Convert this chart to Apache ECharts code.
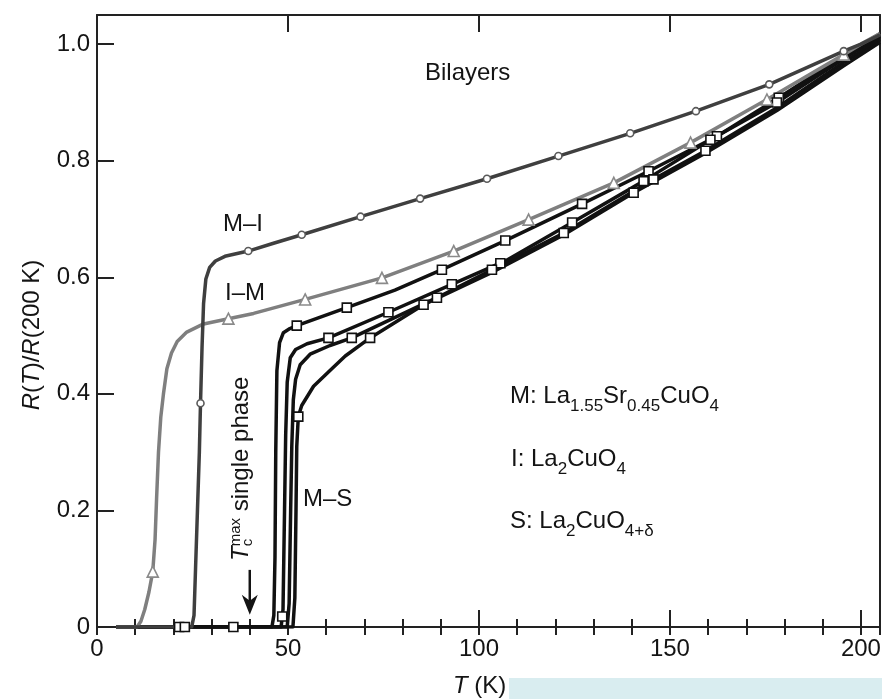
<!DOCTYPE html>
<html>
<head>
<meta charset="utf-8">
<script src="https://cdn.jsdelivr.net/npm/echarts@6/dist/echarts.min.js"></script>
<style>
  html, body { margin: 0; padding: 0; background: #fff; }
  #chart { width: 882px; height: 699px; }
</style>
</head>
<body>
<div id="chart"></div>
<script>
// ---- Data: [T (K), R(T)/R(200 K)] ----
const miCurve = [[5,0],[24.8,0],[25.4,0.02],[25.8,0.1],[26.3,0.2],[26.8,0.3],[27.1,0.384],[27.5,0.48],[27.9,0.555],[28.5,0.597],[29.5,0.617],[31,0.628],[33.5,0.636],[39.6,0.645],[46,0.658],[53.6,0.673],[69,0.704],[84.6,0.735],[102.1,0.769],[120.8,0.808],[139.6,0.847],[156.8,0.885],[176,0.931],[195.5,0.988],[200,1.0],[205,1.016]];
const miMarks = [[27.1,0.384],[39.6,0.645],[53.6,0.673],[69,0.704],[84.6,0.735],[102.1,0.769],[120.8,0.808],[139.6,0.847],[156.8,0.885],[176,0.931],[195.5,0.988]];

const imCurve = [[5,0],[10.5,0],[11.5,0.01],[12.5,0.03],[13.6,0.06],[14.6,0.095],[15.2,0.15],[15.6,0.22],[16.1,0.3],[16.7,0.36],[17.4,0.4],[18.3,0.443],[19.5,0.47],[21,0.49],[23.5,0.506],[27.9,0.52],[34.4,0.529],[41,0.538],[54.5,0.562],[74.6,0.599],[93.4,0.645],[113,0.699],[135.3,0.762],[155.4,0.831],[175.4,0.905],[195.5,0.982],[200,1.0],[205,1.018]];
const imMarks = [[14.6,0.095],[34.4,0.529],[54.5,0.562],[74.6,0.599],[93.4,0.645],[113,0.699],[135.3,0.762],[155.4,0.831],[175.4,0.905],[195.5,0.982]];

const msCurveA = [[5,0],[45.8,0],[46.3,0.02],[46.6,0.12],[46.8,0.3],[47.1,0.44],[47.8,0.488],[48.8,0.505],[50.5,0.512],[52.3,0.517],[65.4,0.548],[78,0.578],[90.3,0.613],[106.9,0.663],[127,0.726],[144.4,0.782],[162.3,0.842],[178.5,0.908],[195.5,0.98],[205,1.018]];
const msCurveB = [[5,0],[48.2,0],[48.7,0.03],[49.1,0.2],[49.4,0.33],[49.8,0.42],[50.6,0.462],[52,0.476],[55,0.486],[60.6,0.496],[76.3,0.54],[92.9,0.588],[106.9,0.628],[124.4,0.694],[143.1,0.765],[160.6,0.836],[178,0.9],[195.5,0.975],[205,1.013]];
const msCurveC = [[5,0],[49.8,0],[50.3,0.04],[50.7,0.2],[51,0.31],[51.4,0.39],[52,0.425],[53.2,0.45],[55.8,0.468],[61,0.483],[66.7,0.496],[89,0.565],[103.4,0.613],[122.2,0.676],[145.7,0.768],[159.3,0.817],[178,0.891],[195.5,0.969],[205,1.008]];
const msCurveD = [[5,0],[51.3,0],[51.8,0.05],[52.1,0.2],[52.3,0.31],[52.7,0.361],[53.6,0.38],[56.7,0.413],[61,0.44],[65,0.465],[71.5,0.496],[85.5,0.553],[103,0.607],[122,0.672],[140.5,0.745],[159,0.812],[178,0.886],[195.5,0.963],[205,1.003]];
const msMarks = [[21.5,0],[23,0],[35.7,0],[48.5,0.018],
  [52.3,0.517],[65.4,0.548],[90.3,0.613],[106.9,0.663],[127,0.726],[144.4,0.782],[162.3,0.842],[178.5,0.908],
  [60.6,0.496],[76.3,0.54],[92.9,0.588],[105.6,0.624],[124.4,0.694],[143.1,0.765],[160.6,0.836],[178,0.9],
  [66.7,0.496],[89,0.565],[103.4,0.613],[122.2,0.676],[145.7,0.768],[159.3,0.817],
  [52.7,0.361],[71.5,0.496],[85.5,0.553],[140.5,0.745]];

const xMajorStep = 50, xMinorStep = 10, xMax = 205, xLabelMax = 200;
const yStep = 0.2, yMax = 1.05;
const tcMaxT = 40;          // arrow position, T_c^max of the single-phase film
const arrowR = [0.098, 0.021];

// ---- Styling ----
const FONT = '"Liberation Sans", Arial, Helvetica, sans-serif';
const INK = '#141414';
const AXIS = '#222';
const MID = 0.3465;  // canvas 'middle' baseline offset, in em

const measureCtx = document.createElement('canvas').getContext('2d');
function measure(t, size, style) {
  measureCtx.font = style + ' ' + size + 'px ' + FONT;
  return measureCtx.measureText(t).width;
}
// Lay out a run of text pieces on a common baseline (local y = 0).
function run(pieces, size) {
  const els = [];
  let cx = 0, keepW = 0;
  pieces.forEach(p => {
    const s = p.size || size;
    const st = p.it ? 'italic' : 'normal';
    els.push({
      type: 'text', x: cx, y: (p.dy || 0) - MID * s, silent: true,
      style: { text: p.t, fontSize: s, fontFamily: FONT, fontStyle: st, fill: INK, align: 'left', verticalAlign: 'middle' }
    });
    const w = measure(p.t, s, st);
    if (p.keep) { keepW = w; } else { cx += Math.max(w, keepW); keepW = 0; }
  });
  return { els, width: cx };
}
function textGroup(x, y, pieces, size, rotation) {
  const r = run(pieces, size);
  return { type: 'group', x, y, rotation: rotation || 0, children: r.els };
}
const SUB = 17;
const sub = t => ({ t, size: SUB, dy: 7.5 });

const graphics = [];
graphics.push({ type: 'rect', shape: { x: 509, y: 678, width: 373, height: 21 }, style: { fill: '#d9edf0' }, silent: true });
graphics.push(textGroup(425, 82, [{ t: 'Bilayers' }], 24));
graphics.push(textGroup(223, 233, [{ t: 'M\u2013I' }], 24));
graphics.push(textGroup(225, 302, [{ t: 'I\u2013M' }], 24));
graphics.push(textGroup(303, 508, [{ t: 'M\u2013S' }], 24));
graphics.push(textGroup(510, 405, [{ t: 'M: La' }, sub('1.55'), { t: 'Sr' }, sub('0.45'), { t: 'CuO' }, sub('4')], 24));
graphics.push(textGroup(511, 468, [{ t: 'I: La' }, sub('2'), { t: 'CuO' }, sub('4')], 24));
graphics.push(textGroup(510, 530, [{ t: 'S: La' }, sub('2'), { t: 'CuO' }, sub('4+\u03b4')], 24));
graphics.push(textGroup(453, 695, [{ t: 'T', it: 1 }, { t: ' (K)' }], 24));
// rotated y-axis title
const yTitle = run([{ t: 'R', it: 1 }, { t: '(' }, { t: 'T', it: 1 }, { t: ')/' }, { t: 'R', it: 1 }, { t: '(200 K)' }], 24);
graphics.push({ type: 'group', x: 41, y: 335 + yTitle.width / 2, rotation: Math.PI / 2, children: yTitle.els });
// rotated T_c^max annotation
graphics.push(textGroup(250, 561, [{ t: 'T', it: 1 }, { t: 'max', size: 15, dy: -9, keep: 1 }, { t: 'c', size: 15, dy: 3 }, { t: ' single phase' }], 24, Math.PI / 2));

const chart = echarts.init(document.getElementById('chart'), null, { renderer: 'canvas' });

const lineSeries = (data, color, z) => ({
  type: 'line', data, symbol: 'none', z, silent: true,
  lineStyle: { color, width: 3.5, join: 'round' }
});
const markSeries = (data, symbol, size, border, z) => ({
  type: 'scatter', data, symbol, symbolSize: size, z, silent: true,
  itemStyle: { color: '#fff', borderColor: border, borderWidth: 1.6, opacity: 1 }
});

const baseX = {
  type: 'value', min: 0, max: xMax, splitLine: { show: false },
  axisLine: { show: false }, axisLabel: { show: false },
  axisTick: { show: true, inside: true, lineStyle: { color: AXIS, width: 2 } }
};
const fmtX = v => (v % xMajorStep === 0 && v <= xLabelMax) ? String(v) : '';
const fmtY = v => {
  if (v === 0) return '0';
  const k = v / yStep;
  return Math.abs(k - Math.round(k)) < 1e-6 ? v.toFixed(1) : '';
};

chart.setOption({
  animation: false,
  backgroundColor: '#fff',
  grid: { left: 97, right: 2, top: 15, bottom: 72, containLabel: false, outerBoundsMode: 'none' },
  xAxis: [
    Object.assign({}, baseX, {
      position: 'bottom', interval: xMajorStep,
      axisLine: { show: true, onZero: false, lineStyle: { color: AXIS, width: 2 } },
      axisTick: { show: true, inside: true, length: 17, lineStyle: { color: AXIS, width: 2 } },
      axisLabel: { show: true, formatter: fmtX, margin: 10, fontSize: 24, fontFamily: FONT, color: INK, showMaxLabel: false }
    }),
    Object.assign({}, baseX, { position: 'bottom', interval: xMinorStep,
      axisTick: { show: true, inside: true, length: 8, lineStyle: { color: AXIS, width: 2 } } }),
    Object.assign({}, baseX, {
      position: 'top', interval: xMajorStep,
      axisLine: { show: true, onZero: false, lineStyle: { color: AXIS, width: 2 } },
      axisTick: { show: true, inside: true, length: 17, lineStyle: { color: AXIS, width: 2 } }
    }),
    Object.assign({}, baseX, { position: 'top', interval: xMinorStep,
      axisTick: { show: true, inside: true, length: 8, lineStyle: { color: AXIS, width: 2 } } })
  ],
  yAxis: [
    {
      type: 'value', position: 'left', min: 0, max: yMax, interval: yStep,
      splitLine: { show: false },
      axisLine: { show: true, onZero: false, lineStyle: { color: AXIS, width: 2 } },
      axisTick: { show: true, inside: true, length: 17, lineStyle: { color: AXIS, width: 2 } },
      axisLabel: { formatter: fmtY, margin: 7, fontSize: 24, fontFamily: FONT, color: INK, showMaxLabel: false }
    },
    {
      type: 'value', position: 'right', min: 0, max: yMax, interval: yStep,
      splitLine: { show: false },
      axisLine: { show: true, onZero: false, lineStyle: { color: AXIS, width: 2 } },
      axisTick: { show: false }, axisLabel: { show: false }
    }
  ],
  series: [
    lineSeries(msCurveA, '#111', 3),
    lineSeries(msCurveB, '#111', 3),
    lineSeries(msCurveC, '#111', 3),
    lineSeries(msCurveD, '#111', 3),
    lineSeries(imCurve, '#7f7f7f', 4),
    lineSeries(miCurve, '#3f3f3f', 5),
    markSeries(msMarks, 'rect', 9, '#111', 10),
    markSeries(imMarks, 'triangle', 11, '#8a8a8a', 10),
    markSeries(miMarks, 'circle', 7, '#5a5a5a', 10)
  ],
  graphic: graphics
});

// arrow marking T_c^max, placed through the chart's own scales
const tail = chart.convertToPixel({ xAxisIndex: 0, yAxisIndex: 0 }, [tcMaxT, arrowR[0]]);
const tip = chart.convertToPixel({ xAxisIndex: 0, yAxisIndex: 0 }, [tcMaxT, arrowR[1]]);
chart.setOption({
  graphic: graphics.concat([
    { type: 'line', silent: true, shape: { x1: tail[0], y1: tail[1], x2: tip[0], y2: tip[1] - 10 },
      style: { stroke: INK, lineWidth: 2.5 } },
    { type: 'polygon', silent: true,
      shape: { points: [[tip[0], tip[1]], [tip[0] - 8, tip[1] - 20], [tip[0], tip[1] - 14], [tip[0] + 8, tip[1] - 20]] },
      style: { fill: INK } }
  ])
});
</script>
</body>
</html>
